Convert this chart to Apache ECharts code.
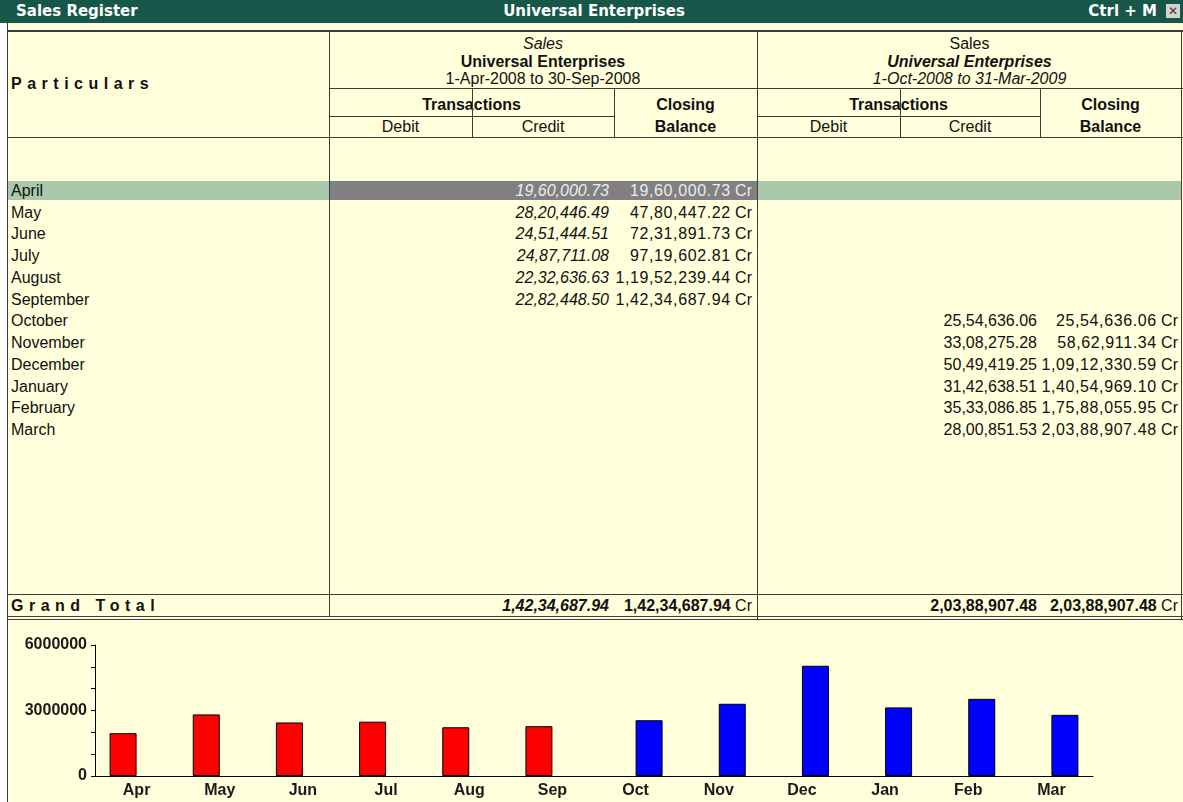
<!DOCTYPE html>
<html>
<head>
<meta charset="utf-8">
<title>Sales Register</title>
<script src="https://cdn.jsdelivr.net/npm/echarts@6/dist/echarts.min.js"></script>
<style>
  body { margin:0; width:1183px; height:802px; background:#fff; overflow:hidden; position:relative;
         font-family:"Liberation Sans", Arial, sans-serif; font-size:16px; color:#111; }
  .a { position:absolute; white-space:nowrap; }
  .hl { position:absolute; height:1px; background:#3c3c3c; }
  .vl { position:absolute; width:1px; background:#3c3c3c; }
  .c { text-align:center; }
  .r { text-align:right; }
  .b { font-weight:bold; }
  .i { font-style:italic; }
  .sp { letter-spacing:0.6px; }
  #bar { position:absolute; left:0; top:0; width:1183px; height:23px; background:#17574a; }
  #bar .a { color:#fff; font-family:"DejaVu Sans", Verdana, sans-serif; font-weight:bold; font-size:15px; top:2px; }
  #body { position:absolute; left:8px; top:23px; width:1175px; height:779px; background:#ffffdc; }
  #chart { position:absolute; left:8px; top:620px; width:1175px; height:182px; }
</style>
</head>
<body>
<div id="bar">
  <div class="a" style="left:16px">Sales Register</div>
  <div class="a c" style="left:394px;width:400px">Universal Enterprises</div>
  <div class="a r" style="left:1000px;width:157px">Ctrl + M</div>
  <div class="a c" style="left:1166px;top:4px;width:14px;height:14px;background:#d6d3cc;color:#333;font-size:12px;line-height:14px;font-family:'DejaVu Sans'">✕</div>
</div>
<div id="body"></div>
<div id="tbl"></div>
<div id="chart"></div>

<script>
// rows of the register
var months = ['April', 'May', 'June', 'July', 'August', 'September',
              'October', 'November', 'December', 'January', 'February', 'March'];
var monthShort = ['Apr', 'May', 'Jun', 'Jul', 'Aug', 'Sep', 'Oct', 'Nov', 'Dec', 'Jan', 'Feb', 'Mar'];

// 1-Apr-2008 to 30-Sep-2008
var h1Credit = [1960000.73, 2820446.49, 2451444.51, 2487711.08, 2232636.63, 2282448.50];
var h1Closing = [1960000.73, 4780447.22, 7231891.73, 9719602.81, 11952239.44, 14234687.94];
var h1Total = 14234687.94;

// 1-Oct-2008 to 31-Mar-2009
var h2Credit = [2554636.06, 3308275.28, 5049419.25, 3142638.51, 3533086.85, 2800851.53];
var h2Closing = [2554636.06, 5862911.34, 10912330.59, 14054969.10, 17588055.95, 20388907.48];
var h2Total = 20388907.48;

var yTicks = [0, 3000000, 6000000];

// indian style grouping 1,42,34,687.94
function inr(v) {
  var p = v.toFixed(2).split('.');
  var x = p[0];
  var last3 = x.slice(-3);
  var rest = x.slice(0, -3);
  if (rest) last3 = ',' + last3;
  rest = rest.replace(/\B(?=(\d{2})+(?!\d))/g, ',');
  return rest + last3 + '.' + p[1];
}

var html = '';
function box(l, t, w, h, cls, txt, style) {
  html += '<div class="a ' + (cls || '') + '" style="left:' + l + 'px;top:' + t + 'px;width:' + w +
          'px;height:' + h + 'px;line-height:' + h + 'px;' + (style || '') + '">' + txt + '</div>';
}
function hl(x1, x2, y, h) { html += '<div class="hl" style="left:' + x1 + 'px;width:' + (x2 - x1) + 'px;top:' + y + 'px;' + (h ? 'height:' + h + 'px' : '') + '"></div>'; }
function vl(x, y1, y2) { html += '<div class="vl" style="left:' + x + 'px;top:' + y1 + 'px;height:' + (y2 - y1) + 'px"></div>'; }

// april highlight
box(8, 181, 1174, 19, '', '', 'background:#a9c9aa');
box(330, 181, 427, 19, '', '', 'background:#808080');

// header
box(11, 75, 200, 18, 'b', 'Particulars', 'font-size:16px;letter-spacing:5.5px');
box(329, 35, 428, 18, 'c i', 'Sales');
box(329, 53, 428, 18, 'c b', 'Universal Enterprises');
box(329, 70, 428, 18, 'c', '1-Apr-2008 to 30-Sep-2008');
box(757, 35, 425, 18, 'c', 'Sales');
box(757, 53, 425, 18, 'c b i', 'Universal Enterprises');
box(757, 70, 425, 18, 'c i', '1-Oct-2008 to 31-Mar-2009');
[[329, 472, 614, 757], [757, 900, 1040, 1181]].forEach(function (c) {
  box(c[0], 96, c[2] - c[0], 18, 'c b', 'Transactions');
  box(c[2], 96, c[3] - c[2], 18, 'c b', 'Closing');
  box(c[0], 118, c[1] - c[0], 18, 'c', 'Debit');
  box(c[1], 118, c[2] - c[1], 18, 'c', 'Credit');
  box(c[2], 118, c[3] - c[2], 18, 'c b', 'Balance');
});

// month rows
months.forEach(function (m, i) {
  var top = Math.round(181 + i * 21.73);
  box(11, top, 200, 19, '', m);
  var first = i < 6;
  var cr = first ? h1Credit[i] : h2Credit[i - 6];
  var cl = first ? h1Closing[i] : h2Closing[i - 6];
  var col = (i === 0) ? 'color:#ececec;' : '';
  if (first) {
    box(429, top, 180, 19, 'r i', inr(cr), col);
    box(572, top, 180, 19, 'r', '<span class="sp">' + inr(cl) + '</span> Cr', col);
  } else {
    box(857, top, 180, 19, 'r', inr(cr));
    box(998, top, 180, 19, 'r', '<span class="sp">' + inr(cl) + '</span> Cr');
  }
});

// grand total
box(11, 596, 250, 19, 'b', 'Grand Total', 'font-size:16px;letter-spacing:5.5px');
box(429, 596, 180, 19, 'r b i', inr(h1Total));
box(572, 596, 180, 19, 'r', '<b>' + inr(h1Total) + '</b> Cr');
box(857, 596, 180, 19, 'r b', inr(h2Total));
box(998, 596, 180, 19, 'r', '<b>' + inr(h2Total) + '</b> Cr');

// rules
vl(7, 23, 802);
hl(7, 1183, 30, 2);
hl(329, 1183, 88);
hl(329, 614, 116);
hl(757, 1040, 116);
hl(7, 1183, 137);
hl(7, 1183, 594);
hl(7, 1183, 616);
hl(7, 1183, 619);
vl(329, 30, 616);
vl(757, 30, 619);
[472, 614, 900, 1040].forEach(function (x) { vl(x, 88, 137); });
vl(1181, 30, 620);
document.getElementById('tbl').innerHTML = html;

// chart
var chart = echarts.init(document.getElementById('chart'));
var firstHalf = monthShort.map(function (m, i) { return i < 6 ? h1Credit[i] : null; });
var secondHalf = monthShort.map(function (m, i) { return i >= 6 ? h2Credit[i - 6] : null; });
var lbl = { color: '#1a1a1a', fontWeight: 'bold', fontSize: 16, fontFamily: 'Liberation Sans' };
chart.setOption({
  animation: false,
  grid: { left: 87, right: 90, top: 25, bottom: 26 },
  xAxis: {
    type: 'category',
    data: monthShort,
    boundaryGap: true,
    axisLine: { lineStyle: { color: '#000', width: 1 } },
    axisTick: { alignWithLabel: true, length: 4, lineStyle: { color: '#000' } },
    axisLabel: Object.assign({ margin: 7 }, lbl)
  },
  yAxis: {
    type: 'value',
    min: yTicks[0],
    max: yTicks[2],
    interval: yTicks[1],
    splitLine: { show: false },
    axisLine: { show: true, lineStyle: { color: '#000', width: 1 } },
    axisTick: { show: true, length: 4, lineStyle: { color: '#000' } },
    minorTick: { show: true, splitNumber: 3, length: 4, lineStyle: { color: '#000' } },
    axisLabel: Object.assign({ margin: 8, formatter: function (v) { return String(v); } }, lbl)
  },
  series: [
    {
      name: '1-Apr-2008 to 30-Sep-2008',
      type: 'bar',
      data: firstHalf,
      barWidth: 27,
      barGap: '0%',
      itemStyle: { color: '#ff0000', borderColor: '#000', borderWidth: 1 }
    },
    {
      name: '1-Oct-2008 to 31-Mar-2009',
      type: 'bar',
      data: secondHalf,
      barWidth: 27,
      barGap: '0%',
      itemStyle: { color: '#0000ff', borderColor: '#000', borderWidth: 1 }
    }
  ]
});
</script>
</body>
</html>
